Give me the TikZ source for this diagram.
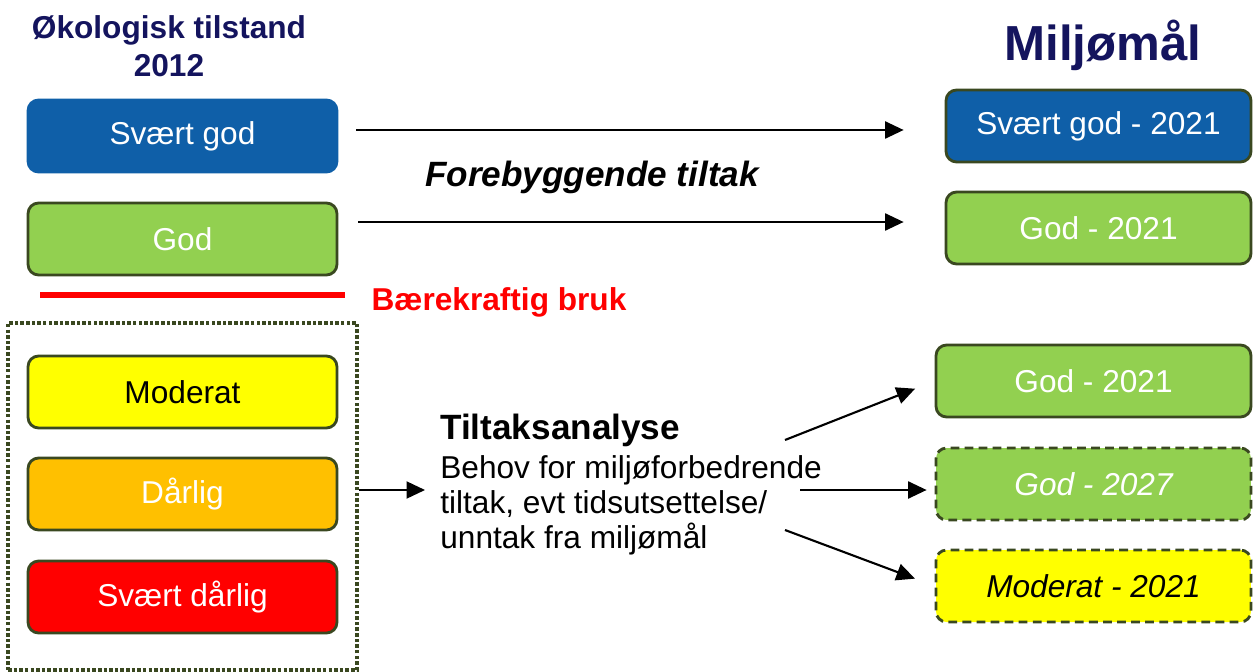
\documentclass[tikz,border=0pt]{standalone}
\usepackage{fontspec}
\setmainfont{Liberation Sans}
\usetikzlibrary{arrows.meta}

\definecolor{nblue}{HTML}{0F5FA8}
\definecolor{ngreen}{HTML}{92D050}
\definecolor{nyellow}{HTML}{FFFF00}
\definecolor{norange}{HTML}{FFC000}
\definecolor{nred}{HTML}{FF0000}
\definecolor{ndark}{HTML}{3A4820}
\definecolor{nnavy}{HTML}{14145E}

\tikzset{
  klasse/.style={draw=ndark, line width=1.6pt, rounded corners=6pt, minimum width=6.18cm,
    minimum height=1.44cm, text=white, font=\fontsize{18}{22}\selectfont},
  maal/.style={klasse, minimum width=6.1cm},
  maalb/.style={klasse, minimum width=6.3cm},
  usikker/.style={dash pattern=on 5pt off 3pt, font=\fontsize{18}{22}\selectfont\itshape},
  pil/.style={-{Triangle[length=3.7mm,width=3.4mm]}, line width=1.2pt},
  tittel/.style={text=nnavy, font=\fontsize{18}{21.5}\selectfont\bfseries, align=center}
}

\begin{document}
\begin{tikzpicture}[x=0.02cm, y=-0.02cm]
      \useasboundingbox (0,0) rectangle (1253,672);

      % Titles
      \node (tilstand) [tittel] at (169,46) {Økologisk tilstand\\2012};
      \node (miljomal) [tittel, font=\fontsize{28}{30}\selectfont\bfseries] at (1103,45) {Miljømål};

      % Left side - good classes
      \node (svgod) [klasse, fill=nblue, draw=nblue] at (182.5,136) {Svært god};
      \node (god) [klasse, fill=ngreen] at (182.5,239) {God};
      \draw[nred, line width=3.4pt] (40,295) -- (345,295);
      \node (baerekraft) [text=nred, font=\fontsize{18}{22}\selectfont\bfseries] at (499,302) {Bærekraftig bruk};

      % Left side - classes below good
      \node (ramme) [draw=ndark, line width=1.8pt, dash pattern=on 2pt off 1.2pt, minimum width=6.98cm, minimum height=6.94cm] at (182.5,496.5) {};
      \node (moderat) [klasse, fill=nyellow, text=black] at (182.5,392) {Moderat};
      \node (darlig) [klasse, fill=norange] at (182.5,494) {Dårlig};
      \node (svdarlig) [klasse, fill=nred] at (182.5,597) {Svært dårlig};

      % Right side - environmental goals
      \node (msvgod) [maal, fill=nblue] at (1098.5,126) {Svært god - 2021};
      \node (mgod) [maal, fill=ngreen] at (1098.5,228) {God - 2021};
      \node (mgod1) [maalb, fill=ngreen] at (1093.5,381) {God - 2021};
      \node (mgod2) [maalb, usikker, fill=ngreen] at (1093.5,484) {God - 2027};
      \node (mmod) [maalb, usikker, fill=nyellow, text=black] at (1093.5,586) {Moderat - 2021};

      % Preventive measures
      \node (forebygg) [font=\fontsize{20}{24}\selectfont\bfseries\itshape] at (592,177) {Forebyggende tiltak};
      \draw[pil, shorten <=0.36cm, shorten >=0.82cm] (svgod.east |- 0,130) -- (msvgod.west |- 0,130);
      \draw[pil, shorten <=0.4cm, shorten >=0.82cm] (god.east |- 0,222) -- (mgod.west |- 0,222);

      % Measures analysis
      \node (analyse) [anchor=north west, inner sep=0pt, align=left, font=\fontsize{18}{20}\selectfont] at (440,414)
        {{\fontsize{20}{22}\selectfont\bfseries Tiltaksanalyse}\\[2pt]
         Behov for miljøforbedrende\\tiltak, evt tidsutsettelse/\\unntak fra miljømål};
      \draw[pil, shorten >=0.3cm] (ramme.east |- 0,490) -- (analyse.west |- 0,490);
      \coordinate (ut1) at (785,440);
      \coordinate (ut2) at (800,490);
      \coordinate (ut3) at (785,530);
      \draw[pil, shorten >=0.42cm] (ut1) -- (mgod1.west);
      \draw[pil, shorten >=0.16cm] (ut2) -- (mgod2.west |- ut2);
      \draw[pil, shorten >=0.42cm] (ut3) -- (mmod.west);

\end{tikzpicture}
\end{document}
